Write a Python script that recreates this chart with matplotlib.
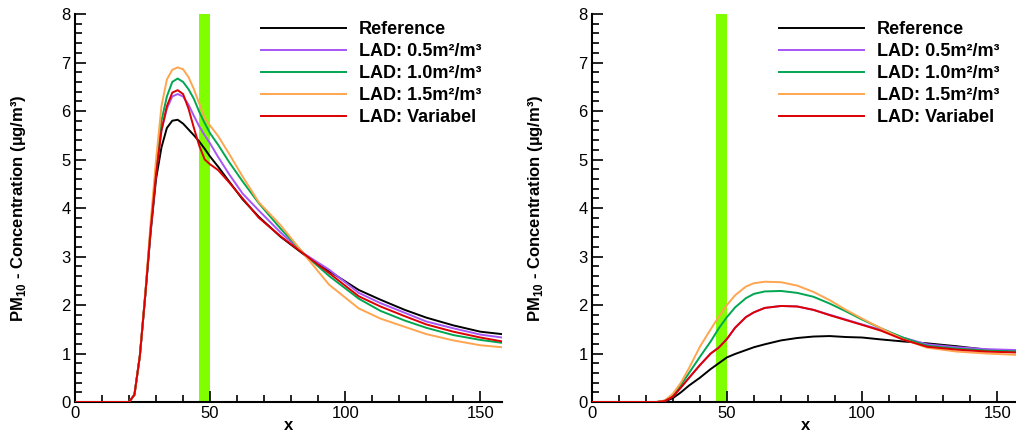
import matplotlib
matplotlib.use("Agg")
import matplotlib.pyplot as plt
from matplotlib.ticker import MultipleLocator

plt.rcParams['font.family'] = ['Liberation Sans', 'DejaVu Sans']
plt.rcParams['mathtext.fontset'] = 'custom'
plt.rcParams['mathtext.rm'] = 'Liberation Sans:bold'
plt.rcParams['mathtext.bf'] = 'Liberation Sans:bold'

# ---- data ----
labels = ["Reference", "LAD: 0.5m²/m³", "LAD: 1.0m²/m³", "LAD: 1.5m²/m³", "LAD: Variabel"]
colors = ["#000000", "#a855f7", "#00a651", "#ffa54f", "#dd0000"]

# left panel
x_left = [0, 20, 22, 24, 26, 28, 30, 32, 34, 36, 38, 40, 42, 44, 46, 48, 50, 53, 57,
          62, 68, 76, 85, 94, 105, 113, 122, 130, 140, 150, 158]
ref_left = [0, 0, 0.15, 0.95, 2.2, 3.5, 4.6, 5.25, 5.65, 5.8, 5.82, 5.74, 5.62, 5.5, 5.37,
            5.22, 5.06, 4.85, 4.55, 4.18, 3.82, 3.41, 3.03, 2.7, 2.31, 2.11, 1.9, 1.74,
            1.58, 1.45, 1.40]
lad05_left = [0, 0, 0.15, 0.95, 2.2, 3.55, 4.75, 5.6, 6.05, 6.3, 6.35, 6.3, 6.13, 5.9,
              5.68, 5.5, 5.33, 5.05, 4.7, 4.3, 3.95, 3.5, 3.05, 2.73, 2.25, 2.04, 1.84,
              1.66, 1.52, 1.39, 1.33]
lad10_left = [0, 0, 0.15, 0.95, 2.2, 3.6, 4.85, 5.8, 6.3, 6.6, 6.67, 6.6, 6.45, 6.25,
              5.98, 5.75, 5.54, 5.3, 4.95, 4.55, 4.1, 3.58, 3.04, 2.6, 2.13, 1.88, 1.68,
              1.53, 1.38, 1.28, 1.22]
lad15_left = [0, 0, 0.15, 0.95, 2.25, 3.7, 5.0, 6.1, 6.65, 6.85, 6.9, 6.86, 6.7, 6.45,
              6.15, 5.85, 5.7, 5.48, 5.12, 4.65, 4.12, 3.65, 3.03, 2.42, 1.93, 1.72,
              1.55, 1.4, 1.27, 1.17, 1.13]
var_left = [0, 0, 0.15, 0.95, 2.2, 3.55, 4.7, 5.6, 6.1, 6.38, 6.43, 6.35, 6.05, 5.65,
            5.28, 5.0, 4.9, 4.78, 4.53, 4.2, 3.8, 3.42, 3.04, 2.66, 2.18, 1.97, 1.77,
            1.6, 1.45, 1.33, 1.25]

# right panel
x_right = [0, 20, 24, 27, 30, 33, 36, 40, 44, 47, 50, 53, 57, 60, 64, 70, 76, 82, 88,
           94, 100, 107, 115, 124, 135, 146, 158]
ref_right = [0, 0, 0, 0.01, 0.08, 0.2, 0.34, 0.5, 0.68, 0.8, 0.92, 0.99, 1.07, 1.13,
             1.19, 1.27, 1.32, 1.35, 1.36, 1.34, 1.33, 1.29, 1.25, 1.21, 1.15, 1.08, 1.03]
lad05_right = [0, 0, 0, 0.02, 0.11, 0.3, 0.5, 0.76, 1.0, 1.13, 1.3, 1.53, 1.75, 1.85,
               1.94, 1.98, 1.97, 1.9, 1.8, 1.7, 1.6, 1.49, 1.33, 1.19, 1.13, 1.09, 1.07]
lad10_right = [0, 0, 0, 0.03, 0.14, 0.35, 0.6, 0.93, 1.25, 1.52, 1.75, 1.95, 2.14, 2.23,
               2.28, 2.29, 2.25, 2.17, 2.03, 1.87, 1.7, 1.52, 1.33, 1.16, 1.1, 1.06, 1.04]
lad15_right = [0, 0, 0, 0.03, 0.17, 0.4, 0.7, 1.14, 1.5, 1.76, 2.0, 2.2, 2.38, 2.45,
               2.48, 2.47, 2.4, 2.27, 2.1, 1.9, 1.72, 1.52, 1.3, 1.12, 1.04, 1.0, 0.97]
var_right = [0, 0, 0, 0.02, 0.11, 0.3, 0.5, 0.76, 1.0, 1.12, 1.3, 1.53, 1.75, 1.85,
             1.94, 1.98, 1.97, 1.9, 1.79, 1.69, 1.59, 1.47, 1.29, 1.14, 1.08, 1.04, 1.02]

vegetation = (46, 50)

panels = [
    (x_left, [ref_left, lad05_left, lad10_left, lad15_left, var_left]),
    (x_right, [ref_right, lad05_right, lad10_right, lad15_right, var_right]),
]

fig = plt.figure(figsize=(10.16, 4.34), dpi=100)
axes = [fig.add_axes([0.0738, 0.0737, 0.4203, 0.894]),
        fig.add_axes([0.5824, 0.0737, 0.4205, 0.894])]
legend_x = [0.436, 0.439]

for ax, (xs, series), lx in zip(axes, panels, legend_x):
    ax.axvspan(vegetation[0], vegetation[1], color="#7fff00", lw=0, zorder=1)
    for ys, lab, c in zip(series, labels, colors):
        ax.plot(xs, ys, color=c, lw=1.4, label=lab, zorder=3)

    ax.set_xlim(0, 158)
    ax.set_ylim(0, 8)
    ax.xaxis.set_major_locator(MultipleLocator(50))
    ax.xaxis.set_minor_locator(MultipleLocator(10))
    ax.yaxis.set_major_locator(MultipleLocator(1))
    ax.yaxis.set_minor_locator(MultipleLocator(0.2))
    ax.tick_params(which="both", direction="in", top=False, right=False,
                   width=1.2, labelsize=12, pad=3)
    ax.tick_params(which="major", length=8)
    ax.tick_params(which="minor", length=5)
    for s in ["top", "right"]:
        ax.spines[s].set_visible(False)
    for s in ["left", "bottom"]:
        ax.spines[s].set_linewidth(1.5)

    ax.set_xlabel("x", fontsize=12, fontweight="bold", labelpad=-2.5)
    ax.set_ylabel(r"PM$_{\mathregular{10}}$ - Concentration (µg/m³)",
                  fontsize=12, fontweight="bold")
    ax.yaxis.set_label_coords(-0.11, 0.5)

    ax.legend(loc="upper left", bbox_to_anchor=(lx, 0.982), frameon=False,
              prop={"weight": "bold", "size": 13}, handlelength=4.7,
              handletextpad=0.7, labelspacing=0.28, borderaxespad=0, borderpad=0)

fig.savefig("out.png", dpi=100)
